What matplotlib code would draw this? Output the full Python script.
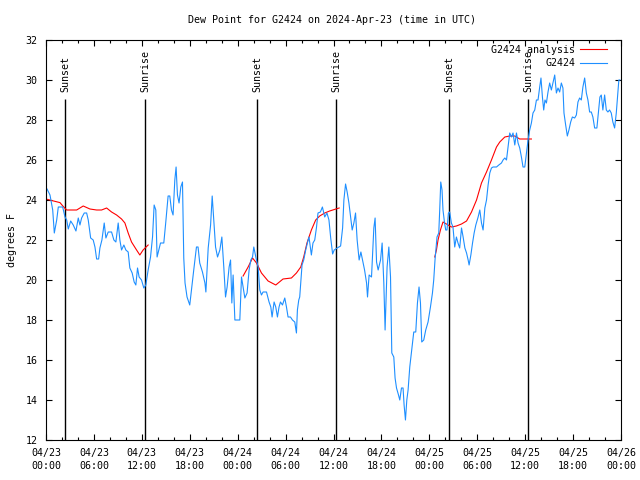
import numpy as np
import pandas as pd
import matplotlib
matplotlib.use('Agg')
import matplotlib.pyplot as plt
import matplotlib.dates as mdates

plt.rcParams['font.family'] = 'DejaVu Sans Mono'
plt.rcParams['font.size'] = 7.2

start = pd.Timestamp('2024-04-23 00:00')

# station obs, hours after 04/23 00:00 UTC
obs_hours = [0.13, 0.50, 0.84, 1.04, 1.34, 1.54, 2.09, 2.38, 2.59, 2.79, 3.09, 3.41, 3.75, 4.04, 4.25, 4.46,
             4.79, 5.09, 5.29, 5.59, 5.91, 6.13, 6.34, 6.59, 6.75, 7.00, 7.29, 7.50, 7.79, 8.21, 8.50, 8.75,
             9.04, 9.25, 9.46, 9.75, 10.00, 10.29, 10.50, 10.79, 11.04, 11.25, 11.46, 11.66, 11.96, 12.25, 12.50, 12.79,
             13.09, 13.34, 13.54, 13.75, 13.91, 14.13, 14.34, 14.75, 15.00, 15.29, 15.50, 15.71, 15.91, 16.13, 16.29, 16.46,
             16.66, 16.88, 17.09, 17.25, 17.41, 17.66, 18.00, 18.21, 18.50, 18.84, 19.04, 19.25, 19.59, 19.90, 20.02, 20.31,
             20.61, 20.81, 21.02, 21.23, 21.48, 21.77, 22.02, 22.27, 22.48, 22.68, 22.93, 23.11, 23.27, 23.43, 23.65, 24.27,
             24.48, 24.68, 24.90, 25.18, 25.43, 25.65, 25.86, 26.02, 26.27, 26.56, 26.77, 26.98, 27.18, 27.61, 27.93, 28.15,
             28.31, 28.56, 28.77, 28.98, 29.18, 29.36, 29.61, 29.90, 30.11, 30.31, 30.61, 30.86, 31.15, 31.36, 31.48, 31.65,
             31.77, 31.90, 32.06, 32.27, 32.52, 32.73, 32.93, 33.23, 33.43, 33.65, 33.86, 34.06, 34.36, 34.61, 34.90, 35.18,
             35.43, 35.65, 35.89, 36.09, 36.46, 36.89, 37.14, 37.30, 37.51, 37.71, 37.93, 38.14, 38.34, 38.55, 38.76, 38.96,
             39.21, 39.43, 39.64, 39.89, 40.14, 40.26, 40.46, 40.76, 41.05, 41.21, 41.39, 41.59, 41.89, 42.09, 42.30, 42.46,
             42.71, 42.93, 43.14, 43.30, 43.55, 43.71, 43.89, 44.14, 44.30, 44.51, 44.71, 44.84, 45.01, 45.18, 45.34, 45.55,
             45.76, 45.89, 46.05, 46.30, 46.51, 46.71, 46.89, 47.05, 47.30, 47.55, 47.84, 48.14, 48.39, 48.55, 48.71, 48.96,
             49.18, 49.30, 49.43, 49.59, 49.71, 49.89, 50.05, 50.21, 50.39, 50.55, 50.76, 50.96, 51.18, 51.39, 51.59, 51.80,
             52.03, 52.23, 52.45, 52.66, 52.86, 52.98, 53.20, 53.41, 53.61, 53.82, 54.11, 54.32, 54.53, 54.73, 54.95, 55.16,
             55.36, 55.57, 55.78, 55.98, 56.41, 56.70, 57.03, 57.23, 57.45, 57.66, 57.86, 58.07, 58.28, 58.48, 58.70, 58.91,
             59.11, 59.32, 59.53, 59.73, 59.95, 60.16, 60.36, 60.57, 60.78, 60.98, 61.20, 61.41, 61.61, 61.82, 61.98, 62.16,
             62.32, 62.48, 62.66, 62.86, 63.07, 63.28, 63.48, 63.70, 63.91, 64.11, 64.32, 64.53, 64.73, 64.86, 65.07, 65.28,
             65.48, 65.70, 65.91, 66.20, 66.41, 66.61, 66.82, 67.03, 67.23, 67.45, 67.66, 67.86, 68.07, 68.28, 68.48, 68.70,
             68.98, 69.20, 69.36, 69.53, 69.73, 69.95, 70.16, 70.36, 70.57, 70.78, 70.98, 71.20, 71.41, 71.57, 71.73, 71.85]
obs_dewpt = [24.55, 24.25, 23.5, 22.35, 23.0, 23.65, 23.65, 23.15, 23.0, 22.55, 22.95, 22.75, 22.45, 23.1, 22.75, 23.1,
             23.35, 23.35, 23.0, 22.1, 22.0, 21.65, 21.05, 21.05, 21.6, 22.0, 22.85, 22.1, 22.4, 22.4, 22.0, 21.9,
             22.85, 22.0, 21.5, 21.75, 21.5, 21.4, 20.6, 20.35, 19.9, 19.75, 20.6, 20.15, 20.0, 19.6, 19.75, 20.5,
             21.15, 22.15, 23.75, 23.5, 21.15, 21.5, 21.85, 21.85, 22.9, 24.2, 24.2, 23.5, 23.25, 25.0, 25.65, 24.25,
             23.85, 24.65, 24.9, 21.1, 19.85, 19.15, 18.75, 19.5, 20.5, 21.65, 21.65, 20.85, 20.4, 19.85, 19.4, 21.6,
             22.75, 24.2, 22.9, 21.65, 21.15, 21.5, 22.15, 20.6, 19.15, 19.65, 20.65, 21.0, 18.85, 20.25, 18.0, 18.0,
             20.15, 19.65, 19.1, 19.35, 20.5, 21.0, 21.15, 21.65, 21.15, 20.65, 19.5, 19.25, 19.4, 19.4, 18.9, 18.65,
             18.15, 18.9, 18.65, 18.15, 18.65, 18.9, 18.75, 19.1, 18.65, 18.15, 18.15, 18.0, 17.9, 17.35, 18.5, 19.0,
             19.15, 19.9, 20.75, 21.0, 21.5, 21.85, 22.15, 21.25, 21.85, 22.0, 22.6, 23.35, 23.4, 23.65, 23.15, 23.35,
             23.0, 22.1, 21.3, 21.5, 21.6, 21.7, 22.6, 24.0, 24.8, 24.4, 23.85, 23.15, 22.5, 22.85, 23.35, 22.0,
             21.0, 21.4, 21.0, 20.5, 19.85, 19.15, 20.25, 20.15, 22.6, 23.1, 20.9, 20.5, 21.0, 21.85, 19.85, 17.5,
             20.65, 21.65, 20.15, 16.35, 16.15, 15.1, 14.6, 14.25, 14.0, 14.6, 14.6, 13.75, 13.0, 14.0, 14.5, 15.65,
             16.4, 16.9, 17.4, 17.4, 18.85, 19.65, 18.85, 16.9, 17.0, 17.5, 17.9, 18.65, 19.35, 20.0, 21.0, 22.15,
             22.35, 23.5, 24.9, 24.5, 23.5, 22.9, 22.5, 22.5, 23.35, 23.4, 22.85, 22.65, 21.65, 22.15, 21.85, 21.6,
             22.6, 22.15, 21.6, 21.35, 21.0, 20.75, 21.25, 21.85, 22.35, 22.75, 23.15, 23.5, 22.85, 22.5, 23.6, 24.0,
             24.75, 25.35, 25.6, 25.65, 25.65, 25.75, 25.85, 26.0, 26.1, 26.0, 26.65, 27.35, 27.15, 27.35, 26.75, 27.35,
             26.85, 26.6, 26.15, 25.65, 25.65, 26.35, 27.0, 27.5, 27.85, 28.35, 28.5, 29.0, 29.0, 29.65, 30.1, 29.15,
             28.5, 29.0, 28.85, 29.4, 29.85, 29.5, 29.85, 30.25, 29.35, 29.6, 29.4, 29.85, 29.6, 28.35, 27.75, 27.2,
             27.5, 27.9, 28.15, 28.1, 28.25, 28.9, 29.1, 29.0, 29.65, 30.1, 29.35, 29.0, 28.4, 28.4, 28.15, 27.6,
             27.6, 28.5, 29.15, 29.25, 28.5, 29.25, 28.5, 28.4, 28.5, 28.35, 27.9, 27.6, 28.35, 29.15, 30.0, 30.0]

# analysis, NaN = no analysis
ana_hours = [0.0, 0.75, 1.75, 2.17, 2.59, 3.84, 4.66, 5.5, 6.34, 6.96, 7.59, 8.21, 8.84, 9.46, 9.88, 10.29,
             10.71, 11.34, 11.75, 12.16, 12.79, 13.0,
             24.68, 25.31, 25.86, 26.36, 26.98, 27.81, 28.77, 29.68, 30.73, 31.36, 31.9, 32.27, 32.68, 33.23,
             33.77, 34.27, 34.9, 35.52, 36.3, 36.71, 37.0,
             48.68, 48.89, 49.09, 49.39, 49.71, 50.14, 50.76, 51.39, 52.03, 52.66, 53.28, 53.91, 54.53, 55.16,
             55.78, 56.41, 56.82, 57.45, 58.07, 58.7, 59.32, 59.95, 60.78]
ana_dewpt = [24.05, 23.97, 23.87, 23.67, 23.5, 23.5, 23.7, 23.55, 23.5, 23.5, 23.6, 23.4, 23.25, 23.05, 22.85, 22.35,
             21.9, 21.5, 21.25, 21.5, 21.75, np.nan,
             20.2, 20.65, 21.1, 20.85, 20.35, 19.95, 19.75, 20.05, 20.1, 20.35, 20.65, 21.15, 21.85, 22.5,
             23.0, 23.2, 23.35, 23.45, 23.55, 23.6, np.nan,
             21.15, 21.5, 22.0, 22.5, 22.9, 22.8, 22.65, 22.7, 22.8, 22.95, 23.4, 24.0, 24.85, 25.4,
             26.0, 26.65, 26.9, 27.15, 27.2, 27.2, 27.05, 27.05, 27.05]

event_hours = [2.38, 12.43, 26.45, 36.33, 50.48, 60.36]
event_names = ['Sunset', 'Sunrise', 'Sunset', 'Sunrise', 'Sunset', 'Sunrise']

obs_t = start + pd.to_timedelta(obs_hours, unit='h')
ana_t = start + pd.to_timedelta(ana_hours, unit='h')
ev_t = start + pd.to_timedelta(event_hours, unit='h')

fig = plt.figure(figsize=(6.4, 4.8), dpi=100)
ax = fig.add_axes([46/640, 40/480, 575/640, 400/480])

for t, name in zip(ev_t, event_names):
    ax.vlines(t, 12, 29.03, color='black', lw=1)
    ax.text(t, 29.4, name, rotation=90, ha='center', va='bottom')

ax.plot(ana_t, ana_dewpt, color='#ff0000', lw=0.8, label='G2424 analysis')
ax.plot(obs_t, obs_dewpt, color='#1e8fff', lw=0.8, label='G2424')

ax.set_xlim(start, start + pd.Timedelta(hours=72))
ax.set_ylim(12, 32)
ax.set_yticks(np.arange(12, 33, 2))
ax.xaxis.set_major_locator(mdates.HourLocator(byhour=[0, 6, 12, 18]))
ax.xaxis.set_minor_locator(mdates.HourLocator(byhour=range(0, 24, 2)))
ax.xaxis.set_major_formatter(mdates.DateFormatter('%m/%d\n%H:%M'))
ax.tick_params(which='both', direction='in', top=True, right=True, width=0.8)
ax.tick_params(which='major', length=4.5, pad=6)
ax.tick_params(which='minor', length=2.5)
for s in ax.spines.values():
    s.set_linewidth(0.8)
for lbl in ax.get_xticklabels():
    lbl.set_linespacing(1.35)

ax.set_ylabel('degrees F')
ax.yaxis.set_label_coords(-0.051, 0.5)
fig.text(332/640, 1 - 20/480, 'Dew Point for G2424 on 2024-Apr-23 (time in UTC)', ha='center', va='center')

ax.legend(loc='upper right', bbox_to_anchor=(1 - 12/575, 1 - 3/400), frameon=False, markerfirst=False,
          handlelength=2.7, borderaxespad=0, borderpad=0.2, labelspacing=0.35, handletextpad=0.5)

fig.savefig('out.png', dpi=100)
